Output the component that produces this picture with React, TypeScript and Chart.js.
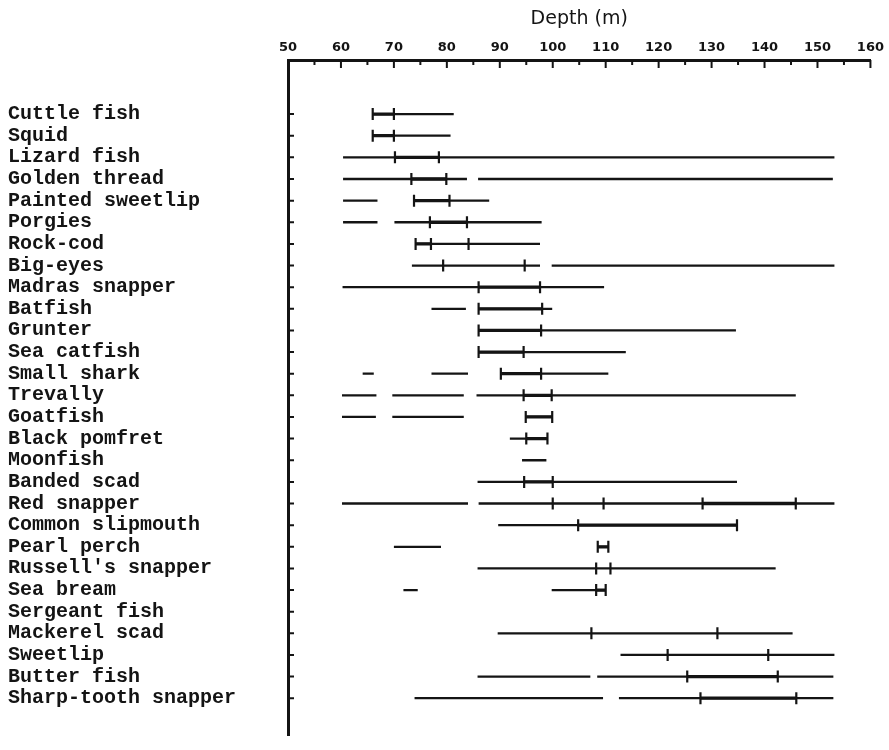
import React, { useEffect, useRef } from "react";
import { Chart, registerables } from "chart.js";

Chart.register(...registerables);

// Species (rows, top to bottom)
const species: string[] = [
  "Cuttle fish",
  "Squid",
  "Lizard fish",
  "Golden thread",
  "Painted sweetlip",
  "Porgies",
  "Rock-cod",
  "Big-eyes",
  "Madras snapper",
  "Batfish",
  "Grunter",
  "Sea catfish",
  "Small shark",
  "Trevally",
  "Goatfish",
  "Black pomfret",
  "Moonfish",
  "Banded scad",
  "Red snapper",
  "Common slipmouth",
  "Pearl perch",
  "Russell's snapper",
  "Sea bream",
  "Sergeant fish",
  "Mackerel scad",
  "Sweetlip",
  "Butter fish",
  "Sharp-tooth snapper",
];

// Depth tick labels (m)
const depthTicks: number[] = [50, 60, 70, 80, 90, 100, 110, 120, 130, 140, 150, 160];

// Depth ranges where each species was caught: [from, to] (m)
const ranges: number[][][] = [
  [[66, 81.3]],
  [[66, 80.7]],
  [[60.4, 153.2]],
  [[60.4, 83.8], [85.9, 152.9]],
  [[60.4, 66.9], [73.8, 88]],
  [[60.4, 66.9], [70.1, 97.9]],
  [[74.1, 97.6]],
  [[73.4, 97.6], [99.8, 153.2]],
  [[60.3, 109.7]],
  [[77.1, 83.6], [86, 99.9]],
  [[86, 134.6]],
  [[86, 113.8]],
  [[64.1, 66.2], [77.1, 84], [90.2, 110.5]],
  [[60.2, 66.7], [69.7, 83.2], [85.6, 145.9]],
  [[60.2, 66.6], [69.7, 83.2], [94.9, 99.9]],
  [[91.9, 99]],
  [[94.2, 98.8]],
  [[85.8, 134.8]],
  [[60.2, 84], [86, 153.2]],
  [[89.7, 134.8]],
  [[70, 78.9], [108.5, 110.5]],
  [[85.8, 142.1]],
  [[71.8, 74.5], [99.8, 110]],
  [],
  [[89.6, 145.3]],
  [[112.8, 153.2]],
  [[85.8, 107.1], [108.4, 153]],
  [[73.9, 109.5], [112.5, 153]],
];

// Heavier (core) part of each range (m)
const coreRanges: number[][][] = [
  [[66, 70]],
  [[66, 70]],
  [[70.2, 78.5]],
  [[73.3, 79.9]],
  [[73.8, 80.5]],
  [[76.8, 83.8]],
  [[74.1, 77]],
  [],
  [[86, 97.6]],
  [[86, 98]],
  [[86, 97.8]],
  [[86, 94.5]],
  [[90.2, 97.8]],
  [[94.5, 99.8]],
  [[94.9, 99.9]],
  [[95, 99]],
  [],
  [[94.6, 100]],
  [[128.3, 145.9]],
  [[104.8, 134.8]],
  [[108.5, 110.5]],
  [],
  [[108.2, 110]],
  [],
  [],
  [],
  [[125.4, 142.5]],
  [[127.9, 146]],
];

// Depths marked with a vertical bar on each row (m)
const marks: number[][] = [
  [66, 70],
  [66, 70],
  [70.2, 78.5],
  [73.3, 79.9],
  [73.8, 80.5],
  [76.8, 83.8],
  [74.1, 77, 84.1],
  [79.3, 94.7],
  [86, 97.6],
  [86, 98],
  [86, 97.8],
  [86, 94.5],
  [90.2, 97.8],
  [94.5, 99.8],
  [94.9, 99.9],
  [95, 99],
  [],
  [94.6, 100],
  [100, 109.6, 128.3, 145.9],
  [104.8, 134.8],
  [108.5, 110.5],
  [108.2, 110.9],
  [108.2, 110],
  [],
  [107.3, 131.1],
  [121.7, 140.7],
  [125.4, 142.5],
  [127.9, 146],
];

const INK = "#141414";

const inwardTicks = {
  id: "inwardTicks",
  afterDraw(chart: any) {
    const { ctx, chartArea } = chart;
    const xs = chart.scales.x;
    const ys = chart.scales.y;
    ctx.save();
    ctx.strokeStyle = INK;
    ctx.lineWidth = 2;
    ctx.beginPath();
    for (let v = xs.min + 5; v <= xs.max; v += 5) {
      const px = xs.getPixelForValue(v);
      const len = v % 10 === 0 ? 8 : 5;
      ctx.moveTo(px, chartArea.top);
      ctx.lineTo(px, chartArea.top + len);
    }
    species.forEach((_, i) => {
      const py = ys.getPixelForValue(i);
      ctx.moveTo(chartArea.left, py);
      ctx.lineTo(chartArea.left + 6, py);
    });
    ctx.stroke();
    ctx.restore();
  },
};

function toLinePoints(list: number[][][]) {
  const pts: any[] = [];
  list.forEach((segs, i) => {
    segs.forEach(([a, b]) => {
      pts.push({ x: a, y: i }, { x: b, y: i }, { x: null, y: null });
    });
  });
  return pts;
}

export default function App() {
  const ref = useRef<HTMLCanvasElement | null>(null);

  useEffect(() => {
    if (!ref.current) return;
    const markPoints: any[] = [];
    marks.forEach((ms, i) => ms.forEach((v) => markPoints.push({ x: v, y: i })));

    const chart = new Chart(ref.current, {
      type: "scatter",
      data: {
        datasets: [
          {
            label: "range",
            data: toLinePoints(ranges),
            showLine: true,
            spanGaps: false,
            borderColor: INK,
            borderWidth: 2.3,
            pointRadius: 0,
            tension: 0,
          } as any,
          {
            label: "core",
            data: toLinePoints(coreRanges),
            showLine: true,
            spanGaps: false,
            borderColor: INK,
            borderWidth: 3.3,
            pointRadius: 0,
            tension: 0,
          } as any,
          {
            label: "marks",
            data: markPoints,
            showLine: false,
            pointStyle: "line",
            rotation: 90,
            pointRadius: 6,
            borderColor: INK,
            borderWidth: 2.2,
          } as any,
        ],
      },
      options: {
        animation: false,
        responsive: false,
        layout: { padding: { left: 8, right: 14, top: 0, bottom: 0 } },
        plugins: { legend: { display: false }, tooltip: { enabled: false } },
        scales: {
          x: {
            type: "linear",
            position: "top",
            min: 50,
            max: 160,
            afterBuildTicks: (s: any) => {
              s.ticks = depthTicks.map((v) => ({ value: v }));
            },
            afterFit: (s: any) => {
              s.height = 60;
            },
            ticks: {
              font: { family: "DejaVu Sans", size: 13, weight: "bold" },
              color: INK,
              padding: 5,
              maxRotation: 0,
              autoSkip: false,
            },
            grid: { display: false, drawTicks: false },
            border: { display: true, color: INK, width: 3 },
            title: {
              display: true,
              text: "Depth (m)",
              font: { family: "DejaVu Sans", size: 19 },
              color: INK,
              padding: { top: 8, bottom: 0 },
            },
          },
          y: {
            type: "linear",
            reverse: true,
            min: -2.5,
            max: 28.7,
            afterBuildTicks: (s: any) => {
              s.ticks = species.map((_, i) => ({ value: i }));
            },
            afterFit: (s: any) => {
              s.width = 280;
            },
            ticks: {
              callback: (v: any) => species[Number(v)] ?? "",
              font: { family: "Liberation Mono", size: 20, weight: "bold" },
              color: INK,
              crossAlign: "far",
              autoSkip: false,
            },
            grid: { display: false, drawTicks: false },
            border: { display: true, color: INK, width: 3 },
          },
        },
      } as any,
      plugins: [inwardTicks],
    });
    return () => chart.destroy();
  }, []);

  return (
    <div style={{ position: "absolute", left: 0, top: 0, width: 889, height: 750, background: "#fff" }}>
      <canvas ref={ref} width={889} height={750} style={{ display: "block" }} />
    </div>
  );
}
